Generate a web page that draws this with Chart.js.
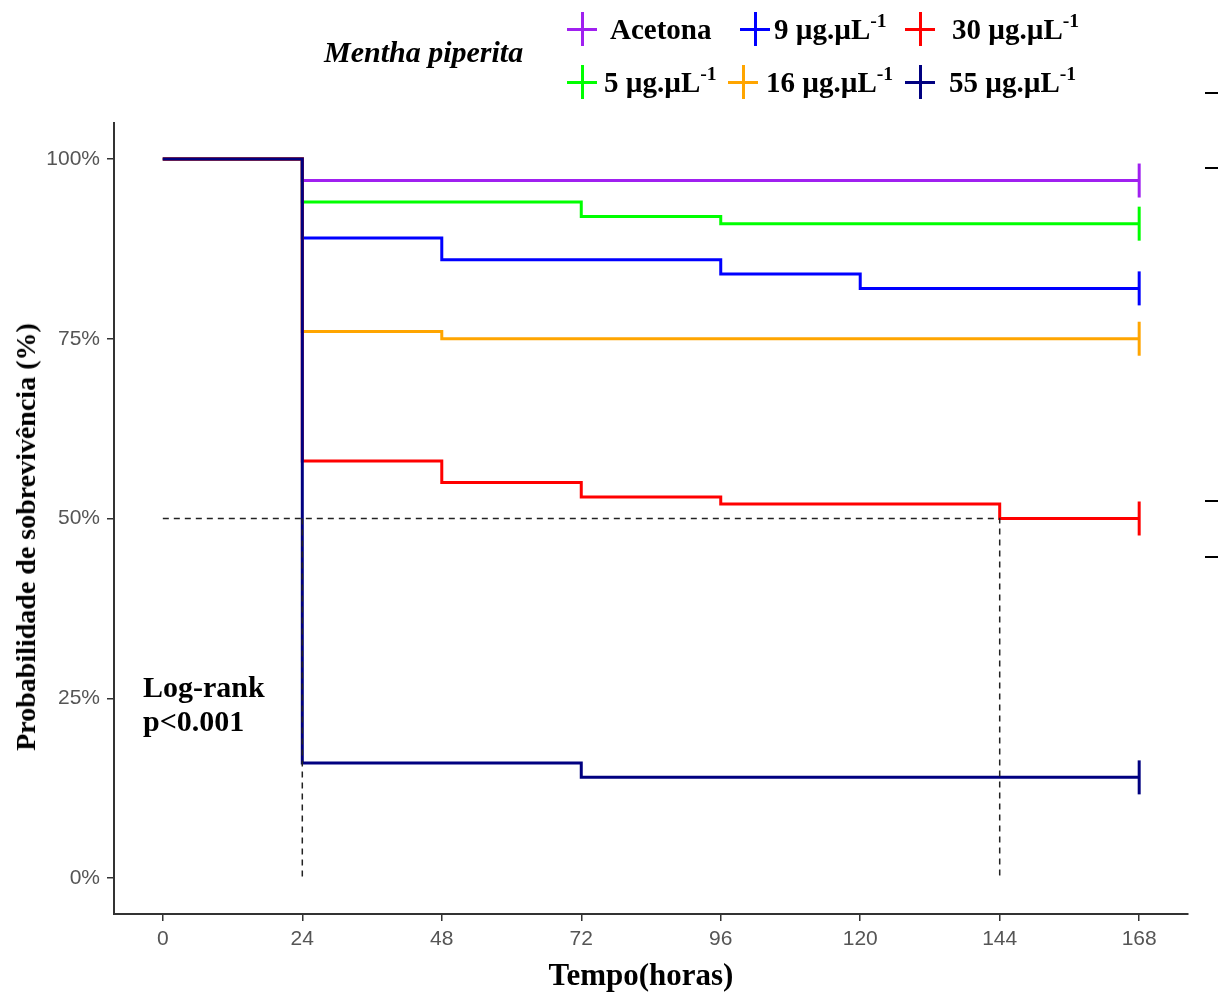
<!DOCTYPE html>
<html>
<head>
<meta charset="utf-8">
<script src="https://cdn.jsdelivr.net/npm/chart.js@4.4.0/dist/chart.umd.min.js"></script>
<style>
  body { margin: 0; background: #fff; }
  #wrap { position: relative; width: 1224px; height: 992px; overflow: hidden; }
  #chart { position: absolute; left: 0; top: 0; }
  .serif { font-family: "Liberation Serif", serif; font-weight: bold; color: #000; white-space: nowrap; }
  .legend-title { position: absolute; left: 324px; top: 34px; font-size: 30px; font-style: italic; line-height: 36px; }
  .key { position: absolute; width: 30px; height: 34px; }
  .key::before { content: ''; position: absolute; left: 0; top: 15.5px; width: 30px; height: 3px; background: var(--c); }
  .key::after { content: ''; position: absolute; left: 13.5px; top: 0; width: 3px; height: 34px; background: var(--c); }
  .lab { position: absolute; font-size: 29px; line-height: 34px; }
  sup { font-size: 0.68em; line-height: 0; vertical-align: 0.6em; }
  .logrank { position: absolute; left: 143px; top: 670px; font-size: 30px; line-height: 34px; }
  .xtitle { position: absolute; left: 641px; top: 957px; transform: translateX(-50%); font-size: 31px; line-height: 36px; }
  .ytitle { position: absolute; left: 26px; top: 537px; transform: translate(-50%, -50%) rotate(-90deg); font-size: 28px; line-height: 32px; }
  .stray { position: absolute; left: 1205px; width: 13px; height: 2px; background: #000; }
</style>
</head>
<body>
<div id="wrap">
  <canvas id="chart" width="1224" height="992"></canvas>
  <div class="serif legend-title">Mentha piperita</div>
  <div id="legend"></div>
  <div class="serif logrank">Log-rank<br>p&lt;0.001</div>
  <div class="serif xtitle">Tempo(horas)</div>
  <div class="serif ytitle">Probabilidade de sobrevivência (%)</div>
  <div class="stray" style="top:92px"></div>
  <div class="stray" style="top:167px"></div>
  <div class="stray" style="top:500px"></div>
  <div class="stray" style="top:556px"></div>
</div>
<script>
// groups (legend order, column-wise like the original)
const groupNames = ['Acetona', '5 µg.µL', '9 µg.µL', '16 µg.µL', '30 µg.µL', '55 µg.µL'];
const groupColors = ['#A020F0', '#00FF00', '#0000FF', '#FFA500', '#FF0000', '#000080'];

// Kaplan-Meier steps (time in hours, survival probability)
const timesAcetona = [0, 24, 168];
const survAcetona  = [1, 0.97, 0.97];
const times5 = [0, 24, 72, 96, 168];
const surv5  = [1, 0.94, 0.92, 0.91, 0.91];
const times9 = [0, 24, 48, 96, 120, 168];
const surv9  = [1, 0.89, 0.86, 0.84, 0.82, 0.82];
const times16 = [0, 24, 48, 168];
const surv16  = [1, 0.76, 0.75, 0.75];
const times30 = [0, 24, 48, 72, 96, 144, 168];
const surv30  = [1, 0.58, 0.55, 0.53, 0.52, 0.50, 0.50];
const times55 = [0, 24, 72, 168];
const surv55  = [1, 0.16, 0.14, 0.14];

// median survival reference lines
const medianTimes = [24, 144];
const medianLevel = 0.5;

const xTicks = [0, 24, 48, 72, 96, 120, 144, 168];
const yTicks = [0, 0.25, 0.5, 0.75, 1];

const allTimes = [timesAcetona, times5, times9, times16, times30, times55];
const allSurv = [survAcetona, surv5, surv9, surv16, surv30, surv55];

// legend layout: [key left, label left, top] per item
const legendSpots = [[567, 610, 12], [567, 604, 65], [740, 774, 12], [728, 766, 65], [905, 952, 12], [905, 949, 65]];
const legendEl = document.getElementById('legend');
groupNames.forEach((name, i) => {
  const [kx, lx, top] = legendSpots[i];
  const sup = name === 'Acetona' ? '' : '<sup>-1</sup>';
  legendEl.insertAdjacentHTML('beforeend',
    `<span class="key" style="--c:${groupColors[i]};left:${kx}px;top:${top}px"></span>` +
    `<span class="serif lab" style="left:${lx}px;top:${top}px">${name}${sup}</span>`);
});

const datasets = groupNames.map((name, i) => {
  const pts = allTimes[i].map((t, k) => ({ x: t, y: allSurv[i][k] }));
  const last = pts.length - 1;
  return {
    label: name,
    data: pts,
    stepped: true,
    borderColor: groupColors[i],
    borderWidth: 3,
    fill: false,
    pointStyle: 'line',
    rotation: 90,
    pointRadius: ctx => ctx.dataIndex === last ? 17 : 0,
    pointHoverRadius: 0,
    pointBorderWidth: 3,
    pointBorderColor: groupColors[i],
    order: groupNames.length - i
  };
});

// dashed median lines
const maxMedian = Math.max(...medianTimes);
const dashStyle = { borderColor: '#222', borderWidth: 1.5, borderDash: [6, 5], pointRadius: 0, fill: false, order: 0 };
datasets.push(Object.assign({
  label: 'median',
  data: [{ x: 0, y: medianLevel }, { x: maxMedian, y: medianLevel }, { x: maxMedian, y: 0 }]
}, dashStyle));
medianTimes.filter(t => t !== maxMedian).forEach(t => {
  datasets.push(Object.assign({
    label: 'median ' + t,
    data: [{ x: t, y: medianLevel }, { x: t, y: 0 }]
  }, dashStyle));
});

new Chart(document.getElementById('chart'), {
  type: 'line',
  data: { datasets },
  options: {
    responsive: false,
    animation: false,
    layout: { padding: { top: 123, right: 36, left: 0, bottom: 0 } },
    plugins: { legend: { display: false }, tooltip: { enabled: false } },
    scales: {
      x: {
        type: 'linear',
        min: -8.4,
        max: 176.4,
        afterBuildTicks: s => { s.ticks = xTicks.map(v => ({ value: v })); },
        afterFit: s => { s.height = 78; },
        grid: { drawOnChartArea: false, tickLength: 7, color: '#333', lineWidth: 1.5 },
        border: { color: '#333', width: 2 },
        ticks: { color: '#555', font: { family: 'Liberation Sans', size: 21 }, padding: 6, maxRotation: 0 }
      },
      y: {
        type: 'linear',
        min: -0.05,
        max: 1.05,
        afterBuildTicks: s => { s.ticks = yTicks.map(v => ({ value: v })); },
        afterFit: s => { s.width = 114; },
        grid: { drawOnChartArea: false, tickLength: 7, color: '#333', lineWidth: 1.5 },
        border: { color: '#333', width: 2 },
        ticks: { color: '#555', font: { family: 'Liberation Sans', size: 21 }, padding: 7, callback: v => Math.round(v * 100) + '%' }
      }
    }
  }
});
</script>
</body>
</html>
